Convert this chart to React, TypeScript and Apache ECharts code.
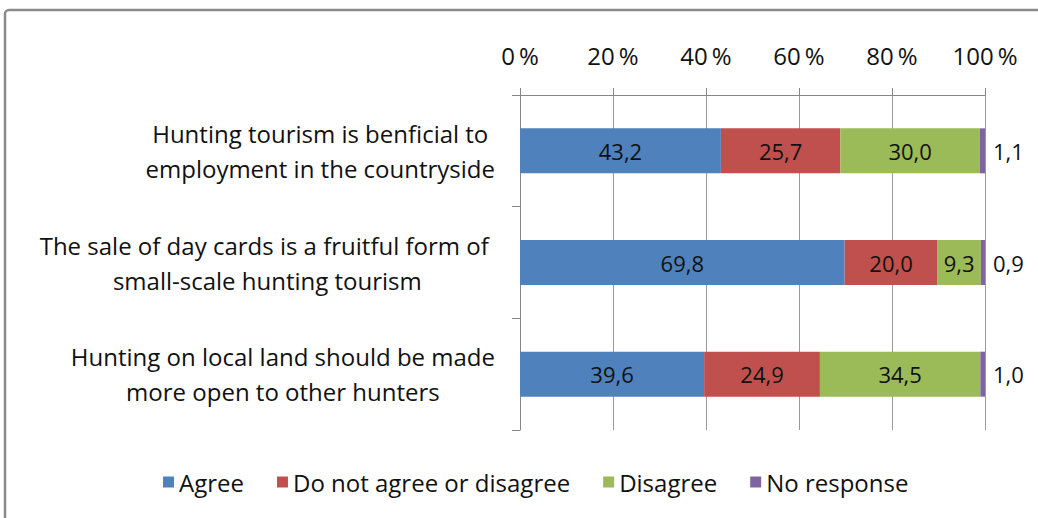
import React, { useEffect, useRef } from "react";
import * as echarts from "echarts";

const categories = [
  "Hunting tourism is benficial to\nemployment in the countryside",
  "The sale of day cards is a fruitful form of \nsmall-scale hunting tourism",
  "Hunting on local land should be made\nmore open to other hunters",
];
const seriesNames = ["Agree", "Do not agree or disagree", "Disagree", "No response"];
const agree = [43.2, 69.8, 39.6];
const neutral = [25.7, 20.0, 24.9];
const disagree = [30.0, 9.3, 34.5];
const noResponse = [1.1, 0.9, 1.0];
const xTicks = [0, 20, 40, 60, 80, 100];
const colors = ["#4F81BD", "#C0504D", "#9BBB59", "#8064A2"];

const FONT = "Open Sans";
const FS = 24;
const fmt = (v: number) => v.toFixed(1).replace(".", ",");

export default function App() {
  const ref = useRef<HTMLDivElement>(null);
  useEffect(() => {
    document.body.style.margin = "0";
    const chart = echarts.init(ref.current!, null, { renderer: "svg" });
    const values = [agree, neutral, disagree, noResponse];
    chart.setOption({
      animation: false,
      backgroundColor: "#ffffff",
      textStyle: { fontFamily: FONT, color: "#111" },
      graphic: [
        {
          type: "rect",
          shape: { x: 5, y: 10, width: 1100, height: 600, r: 4 },
          style: { fill: "none", stroke: "#8a8a8a", lineWidth: 2.5 },
          silent: true,
        },
      ],
      grid: { left: 520, right: 53, top: 95, bottom: 88, containLabel: false },
      legend: {
        bottom: 19,
        left: 158,
        icon: "rect",
        itemWidth: 11,
        itemHeight: 11,
        itemGap: 33,
        itemStyle: { borderWidth: 0 },
        textStyle: { fontFamily: FONT, fontSize: FS, color: "#111" },
        data: seriesNames,
      },
      xAxis: {
        type: "value",
        position: "top",
        min: xTicks[0],
        max: xTicks[xTicks.length - 1],
        interval: 20,
        axisLine: { show: true, lineStyle: { color: "#868686", width: 1 } },
        axisTick: { show: true, length: 7, lineStyle: { color: "#868686" } },
        splitLine: { show: true, lineStyle: { color: "#9a9a9a", width: 1 } },
        axisLabel: {
          margin: 28,
          fontFamily: FONT,
          fontSize: FS,
          color: "#111",
          formatter: (v: number) => `${v}\u2009%`,
        },
      },
      yAxis: {
        type: "category",
        inverse: true,
        data: categories,
        axisLine: { show: true, lineStyle: { color: "#868686", width: 1 } },
        axisTick: { show: true, length: 8, lineStyle: { color: "#868686" } },
        axisLabel: {
          margin: 25,
          align: "right",
          lineHeight: 35,
          formatter: (v: string) =>
            v
              .split("\n")
              .map((l) => `{c|${l}}`)
              .join("\n"),
          rich: {
            c: { align: "center", fontFamily: FONT, fontSize: FS, color: "#111", lineHeight: 35 },
          },
        },
      },
      series: seriesNames.map((name, i) => ({
        name,
        type: "bar",
        stack: "total",
        barWidth: 45,
        itemStyle: { color: colors[i] },
        data: values[i],
        label: {
          show: true,
          position: i === 3 ? "right" : "inside",
          distance: 8,
          fontFamily: FONT,
          fontSize: 22,
          color: "#111",
          formatter: (p: any) => fmt(p.value),
        },
      })),
    });
    return () => chart.dispose();
  }, []);
  return <div ref={ref} style={{ width: 1038, height: 518 }} />;
}
